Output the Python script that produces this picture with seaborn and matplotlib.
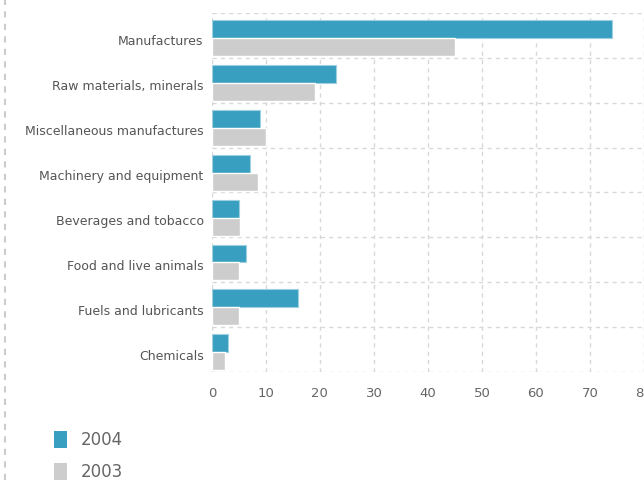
import matplotlib
matplotlib.use("Agg")
import matplotlib.pyplot as plt
import matplotlib.transforms as mtransforms
import seaborn as sns
import pandas as pd
from matplotlib.lines import Line2D
from matplotlib.patches import Patch

categories = ["Manufactures", "Raw materials, minerals", "Miscellaneous manufactures",
              "Machinery and equipment", "Beverages and tobacco", "Food and live animals",
              "Fuels and lubricants", "Chemicals"]
values_2004 = [74, 23, 9, 7, 5, 6.3, 16, 3]
values_2003 = [45, 19, 10, 8.5, 5.2, 5, 5, 2.5]
years = ["2004", "2003"]
xticks = [0, 10, 20, 30, 40, 50, 60, 70, 80]

df = pd.DataFrame({
    "category": categories * 2,
    "value": values_2004 + values_2003,
    "year": [years[0]] * len(categories) + [years[1]] * len(categories),
})

sns.set_theme(style="white")
plt.rcParams['font.family'] = ['DejaVu Sans']
colors = {"2004": "#389fc0", "2003": "#cdcdcd"}

fig = plt.figure(figsize=(6.44, 4.8), dpi=100)
ax = fig.add_axes([0.329, 0.225, 0.671, 0.748])
sns.barplot(data=df, y="category", x="value", hue="year", order=categories,
            hue_order=years, palette=colors, orient="h", width=0.8,
            saturation=1, ax=ax, legend=False)

# shift bars slightly down within each band as in the reference
for p in ax.patches:
    p.set_y(p.get_y() + 0.06)
    if p.get_facecolor()[2] > 0.7 and p.get_facecolor()[0] < 0.5:
        p.set_edgecolor("#9fd0e2")
        p.set_linewidth(0.8)

ax.set_xlim(0, 80)
ax.set_ylim(len(categories) - 0.5, -0.5)
ax.set_xticks(xticks)
ax.set_xticklabels([str(t) for t in xticks])
ax.set_yticks(range(len(categories)), minor=False)
ax.set_yticks([i - 0.5 for i in range(len(categories) + 1)], minor=True)
ax.set_xlabel("")
ax.set_ylabel("")
for s in ax.spines.values():
    s.set_visible(False)
ax.grid(False)
ax.grid(True, axis="x", which="major", color="#d8d8d8", linestyle=(0, (3, 3)), linewidth=1)
ax.grid(True, axis="y", which="minor", color="#d8d8d8", linestyle=(0, (3, 3)), linewidth=1)
ax.set_axisbelow(True)
ax.tick_params(axis="y", which="both", length=0, labelsize=9, labelcolor="#555555", pad=6)
ax.tick_params(axis="x", length=0, labelsize=9.5, labelcolor="#666666", pad=11)

offset = mtransforms.ScaledTranslation(0, -5 / 100, fig.dpi_scale_trans)
for lbl in ax.get_yticklabels():
    lbl.set_transform(lbl.get_transform() + offset)

# left dotted border
fig.add_artist(Line2D([0.008, 0.008], [0, 1], transform=fig.transFigure,
                      color="#cccccc", linestyle=(0, (3, 3)), linewidth=1.5))

handles = [Patch(facecolor=colors[y], edgecolor="none", label=y) for y in years]
fig.legend(handles=handles, loc="upper left", bbox_to_anchor=(0.06, 0.133),
           frameon=False, fontsize=12, labelcolor="#666666", handlelength=0.8,
           handleheight=1.2, labelspacing=0.8, handletextpad=0.8)

fig.savefig("out.png", dpi=100)
